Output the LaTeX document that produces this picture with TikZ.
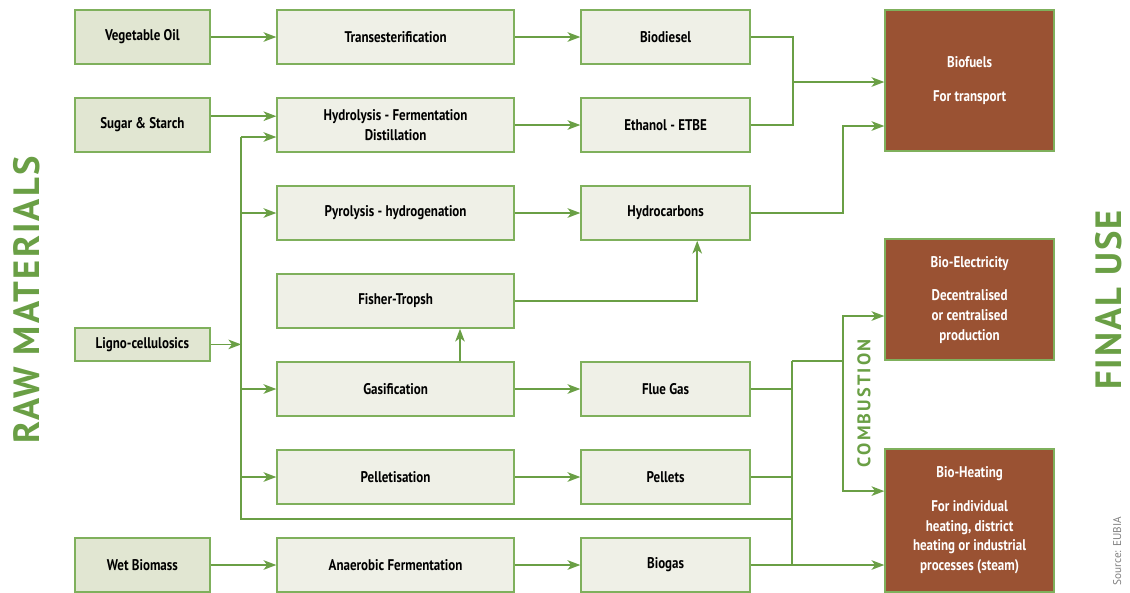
\documentclass[tikz,border=0pt]{standalone}
\usepackage{fontspec}
\setmainfont{PT Sans}[FakeStretch=0.84]
\newfontfamily\headfont{PT Sans}[LetterSpace=6]
\newfontfamily\spacedfont{PT Sans}[LetterSpace=12]
\newfontfamily\plainfont{PT Sans}
\usetikzlibrary{arrows.meta}
\definecolor{leafgreen}{HTML}{6A9F45}
\definecolor{boxgreen}{HTML}{7FB05C}
\definecolor{rawfill}{HTML}{E1E6D2}
\definecolor{procfill}{HTML}{EFF0E7}
\definecolor{rustbrown}{HTML}{9A5233}

\begin{document}
\begin{tikzpicture}[x=1cm,y=1cm]
\tikzset{
  basebox/.style={rectangle,draw=boxgreen,line width=1.1pt,minimum height=1.35cm,inner sep=1pt,align=center,font=\fontsize{11}{14}\selectfont\bfseries},
  rawbox/.style={basebox,fill=rawfill,minimum width=3.375cm},
  procbox/.style={basebox,fill=procfill,minimum width=5.925cm},
  prodbox/.style={basebox,fill=procfill,minimum width=4.225cm},
  usebox/.style={basebox,fill=rustbrown,text=white,minimum width=4.225cm},
  flow/.style={-{Stealth[length=3.2mm,width=2.4mm,inset=0.9mm]},leafgreen,line width=1.1pt},
  link/.style={leafgreen,line width=1.1pt},
  sidetitle/.style={rotate=90,text=leafgreen,inner sep=0pt,font=\headfont\fontsize{26}{26}\selectfont\bfseries}
}
\useasboundingbox (0,0) rectangle (28.25,-14.80);
% raw materials
\node[rawbox] (vegoil) at (3.56,-0.925) {Vegetable Oil};
\node[rawbox] (sugar) at (3.56,-3.125) {Sugar \& Starch};
\node[rawbox,minimum height=0.825cm] (ligno) at (3.56,-8.61) {Ligno-cellulosics};
\node[rawbox] (wetbio) at (3.56,-14.125) {Wet Biomass};
% processes
\node[procbox] (trans) at (9.89,-0.925) {Transesterification};
\node[procbox] (hydro) at (9.89,-3.125) {Hydrolysis - Fermentation\\Distillation};
\node[procbox] (pyro) at (9.89,-5.325) {Pyrolysis - hydrogenation};
\node[procbox] (fisher) at (9.89,-7.525) {Fisher-Tropsh};
\node[procbox] (gasif) at (9.89,-9.725) {Gasification};
\node[procbox] (pellet) at (9.89,-11.925) {Pelletisation};
\node[procbox] (anaer) at (9.89,-14.125) {Anaerobic Fermentation};
% products
\node[prodbox] (biodiesel) at (16.64,-0.925) {Biodiesel};
\node[prodbox] (ethanol) at (16.64,-3.125) {Ethanol - ETBE};
\node[prodbox] (hydrocarb) at (16.64,-5.325) {Hydrocarbons};
\node[prodbox] (fluegas) at (16.64,-9.725) {Flue Gas};
\node[prodbox] (pellets) at (16.64,-11.925) {Pellets};
\node[prodbox] (biogas) at (16.64,-14.125) {Biogas};
% final use
\node[usebox,minimum height=3.525cm] (biofuels) at (24.24,-2.0125) {Biofuels\\[3.5mm]For transport};
\node[usebox,minimum height=3.025cm] (bioelec) at (24.24,-7.49) {Bio-Electricity\\[3.5mm]Decentralised\\or centralised\\production};
\node[usebox,minimum height=3.575cm] (bioheat) at (24.24,-13.0125) {Bio-Heating\\[3.5mm]For individual\\heating, district\\heating or industrial\\processes (steam)};
% junction points
\coordinate (lignotop) at (6.03,-3.425);
\coordinate (lignobot) at (6.03,-12.975);
\coordinate (fuelmerge) at (19.83,-2.05);
\coordinate (hcbend) at (21.08,-3.15);
\coordinate (combtop) at (19.80,-9.025);
\coordinate (combsplit) at (21.08,-9.025);
% connectors
\draw[flow] (vegoil) -- (trans);
\draw[flow] (trans) -- (biodiesel);
\draw[flow] ([yshift=2.2mm]sugar.east) -- ([yshift=2.2mm]hydro.west);
\draw[flow] (hydro) -- (ethanol);
\draw[flow] (pyro) -- (hydrocarb);
\draw[flow] (ligno) -- (ligno -| lignotop);
\draw[link] (lignotop) -- (lignobot) -- (lignobot -| combtop);
\draw[flow] (lignotop) -- (lignotop -| hydro.west);
\draw[flow] (lignotop |- pyro) -- (pyro);
\draw[flow] (lignotop |- gasif) -- (gasif);
\draw[flow] (lignotop |- pellet) -- (pellet);
\draw[link] (biodiesel) -| (fuelmerge);
\draw[link] (ethanol) -| (fuelmerge);
\draw[flow] (fuelmerge) -- (fuelmerge -| biofuels.west);
\draw[flow] (hydrocarb) -| (hcbend) -- (hcbend -| biofuels.west);
\draw[flow] (fisher) -| ([xshift=7.9mm]hydrocarb.south);
\draw[flow] ([xshift=16.1mm]gasif.north) -- ([xshift=16.1mm]fisher.south);
\draw[flow] (gasif) -- (fluegas);
\draw[flow] (pellet) -- (pellets);
\draw[flow] (wetbio) -- (anaer);
\draw[flow] (anaer) -- (biogas);
\draw[link] (combtop) -- (combtop |- biogas);
\draw[link] (fluegas) -- (fluegas -| combtop);
\draw[link] (pellets) -- (pellets -| combtop);
\draw[flow] (biogas) -- (biogas -| bioheat.west);
\draw[link] (combtop) -- (combsplit);
\draw[flow] (combsplit) |- ([yshift=-4.1mm]bioelec.west);
\draw[flow] (combsplit) |- ([yshift=7.35mm]bioheat.west);
% labels
\node[sidetitle] (rawlabel) at (0.68,-7.50) {RAW MATERIALS};
\node[sidetitle] (uselabel) at (27.72,-7.50) {FINAL USE};
\node[rotate=90,text=leafgreen,font=\spacedfont\fontsize{13}{13}\selectfont\bfseries] (comblabel) at (21.60,-10.08) {COMBUSTION};
\node[rotate=90,text=gray,font=\plainfont\fontsize{8}{8}\selectfont] (source) at (27.93,-13.78) {Source: EUBIA};
\end{tikzpicture}
\end{document}
